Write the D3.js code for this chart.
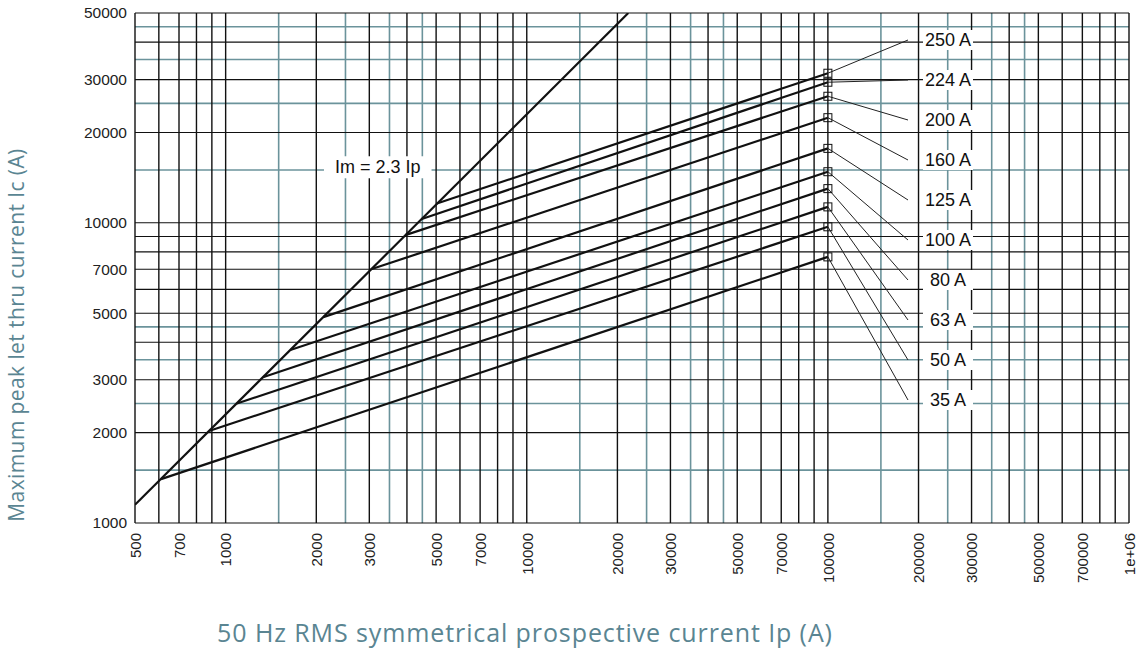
<!DOCTYPE html>
<html>
<head>
<meta charset="utf-8">
<script src="https://cdn.jsdelivr.net/npm/d3@7"></script>
<style>
  body { margin: 0; background: #fff; }
  svg { display: block; }
</style>
</head>
<body>
<svg id="chart" width="1139" height="652"></svg>
<script>
// grid lines
let xBlack = [500, 600, 700, 800, 900, 1000, 2000, 3000, 4000, 5000, 6000, 7000, 8000, 9000,
    10000, 20000, 30000, 40000, 50000, 60000, 70000, 80000, 90000,
    100000, 200000, 300000, 400000, 500000, 600000, 700000, 800000, 900000, 1000000];
let xTeal = [1500, 2500, 3500, 4500, 15000, 25000, 35000, 45000, 150000, 250000, 350000, 450000];
let yBlack = [1000, 2000, 3000, 4000, 5000, 6000, 7000, 8000, 9000, 10000, 20000, 30000, 40000, 50000];
let yTeal = [1500, 2500, 3500, 4500, 15000, 25000, 35000, 45000];

// tick labels
let xTickVals = [500, 700, 1000, 2000, 3000, 5000, 7000, 10000, 20000, 30000, 50000, 70000,
    100000, 200000, 300000, 500000, 700000, 1000000];
let xTickLabels = ["500", "700", "1000", "2000", "3000", "5000", "7000", "10000", "20000", "30000",
    "50000", "70000", "100000", "200000", "300000", "500000", "700000", "1e+06"];
let yTickVals = [1000, 2000, 3000, 5000, 7000, 10000, 20000, 30000, 50000];

// Im = 2.3 Ip line
let imIp = [500, 21740];
let imIc = [1150, 50000];

// rating curves: knee on the Im line -> end at 100 kA
let ratings = ["250 A", "224 A", "200 A", "160 A", "125 A", "100 A", "80 A", "63 A", "50 A", "35 A"];
let kneeIp = [5030, 4480, 3950, 3040, 2110, 1640, 1330, 1090, 885, 610];
let kneeIc = [11600, 10300, 9100, 7000, 4850, 3770, 3060, 2500, 2030, 1400];
let endIp = [100000, 100000, 100000, 100000, 100000, 100000, 100000, 100000, 100000, 100000];
let endIc = [31500, 29400, 26400, 22400, 17700, 14800, 13000, 11300, 9700, 7700];

let plotLeft = 135, plotRight = 1129, plotTop = 13, plotBottom = 523;
let teal = "#6b939b", ink = "#111";
let titleColor = "#5a8592";

var svg = d3.select("#chart");

var x = d3.scaleLog().domain([500, 1000000]).range([plotLeft, plotRight]);
var y = d3.scaleLog().domain([1000, 50000]).range([plotBottom, plotTop]);

//grid: teal first, black on top
var grid = svg.append("g");
grid.selectAll(".vt").data(xTeal).enter().append("line")
    .attr("x1", d => x(d)).attr("x2", d => x(d))
    .attr("y1", plotTop).attr("y2", plotBottom)
    .attr("stroke", teal).attr("stroke-width", 1.6);
grid.selectAll(".ht").data(yTeal).enter().append("line")
    .attr("x1", plotLeft).attr("x2", plotRight)
    .attr("y1", d => y(d)).attr("y2", d => y(d))
    .attr("stroke", teal).attr("stroke-width", 1.6);
grid.selectAll(".vb").data(xBlack).enter().append("line")
    .attr("x1", d => x(d)).attr("x2", d => x(d))
    .attr("y1", plotTop).attr("y2", plotBottom)
    .attr("stroke", ink).attr("stroke-width", 1.4);
grid.selectAll(".hb").data(yBlack).enter().append("line")
    .attr("x1", plotLeft).attr("x2", plotRight)
    .attr("y1", d => y(d)).attr("y2", d => y(d))
    .attr("stroke", ink).attr("stroke-width", 1.1);

//Y axis labels
var yAxis = d3.axisLeft(y).tickValues(yTickVals).tickFormat(d3.format("d"))
    .tickSize(0).tickPadding(8);
var yAxisGroup = svg.append("g")
    .attr("transform", `translate(${plotLeft}, 0)`)
    .call(yAxis);
yAxisGroup.select(".domain").remove();
yAxisGroup.selectAll("text")
    .attr("font-family", "Liberation Sans, Arial, sans-serif")
    .attr("font-size", "15.5px")
    .attr("fill", "#222");

//X axis labels
var xAxis = d3.axisBottom(x).tickValues(xTickVals)
    .tickFormat((d, i) => xTickLabels[i])
    .tickSize(0);
var xAxisGroup = svg.append("g")
    .attr("transform", `translate(0, ${plotBottom})`)
    .call(xAxis);
xAxisGroup.select(".domain").remove();
xAxisGroup.selectAll("text")
    .attr("font-family", "Liberation Sans, Arial, sans-serif")
    .attr("font-size", "15px")
    .attr("fill", "#222")
    .attr("text-anchor", "end")
    .attr("transform", "rotate(-90)")
    .attr("x", -10)
    .attr("y", 0)
    .attr("dy", "0.35em");

//clip
svg.append("clipPath").attr("id", "plotclip")
    .append("rect").attr("x", plotLeft).attr("y", plotTop)
    .attr("width", plotRight - plotLeft).attr("height", plotBottom - plotTop);

var plot = svg.append("g").attr("clip-path", "url(#plotclip)");

//Im label with white box
var imLabel = svg.append("g");
var imText = imLabel.append("text")
    .attr("x", x(3200))
    .attr("y", y(15000) - 3)
    .attr("dy", "0.35em")
    .attr("text-anchor", "middle")
    .attr("font-family", "Liberation Sans, Arial, sans-serif")
    .attr("font-size", "18px")
    .attr("fill", "#111")
    .text("Im = 2.3 Ip");
var bb = imText.node().getBBox();
imLabel.insert("rect", "text")
    .attr("x", bb.x - 11).attr("y", bb.y - 1)
    .attr("width", bb.width + 22).attr("height", bb.height + 2)
    .attr("fill", "#fff");

//Im line
var line = d3.line().x(d => x(d[0])).y(d => y(d[1]));
plot.append("path")
    .datum(imIp.map((d, i) => [d, imIc[i]]))
    .attr("d", line)
    .attr("fill", "none")
    .attr("stroke", ink)
    .attr("stroke-width", 2.2);

//rating curves
var curves = ratings.map((r, i) => ({
    name: r,
    pts: [[kneeIp[i], kneeIc[i]], [endIp[i], endIc[i]]],
    i: i
}));

plot.selectAll(".curve").data(curves).enter().append("path")
    .attr("d", d => line(d.pts))
    .attr("fill", "none")
    .attr("stroke", ink)
    .attr("stroke-width", 2.2);

//labels on the right
let labelX = 948, leaderX = 908, labelTop = 40, labelStep = 40;

var labels = svg.append("g");
curves.forEach(function(c) {
    var ly = labelTop + labelStep * c.i;
    labels.append("line")
        .attr("x1", x(endIp[c.i])).attr("y1", y(endIc[c.i]))
        .attr("x2", leaderX).attr("y2", ly)
        .attr("stroke", "#222").attr("stroke-width", 1);
    labels.append("rect")
        .attr("x", labelX - 25).attr("y", ly - 10)
        .attr("width", 50).attr("height", 20)
        .attr("fill", "#fff");
    labels.append("text")
        .attr("x", labelX).attr("y", ly)
        .attr("dy", "0.35em")
        .attr("text-anchor", "middle")
        .attr("font-family", "Liberation Sans, Arial, sans-serif")
        .attr("font-size", "18px")
        .attr("fill", "#111")
        .text(c.name);
});

//square markers
svg.selectAll(".marker").data(curves).enter().append("rect")
    .attr("x", d => x(endIp[d.i]) - 4)
    .attr("y", d => y(endIc[d.i]) - 4)
    .attr("width", 8).attr("height", 8)
    .attr("fill", "none")
    .attr("stroke", "#111")
    .attr("stroke-width", 1);

//axis titles
svg.append("text")
    .attr("x", -335)
    .attr("y", 17)
    .attr("dy", "0.35em")
    .attr("transform", "rotate(-90)")
    .attr("text-anchor", "middle")
    .attr("font-family", "Open Sans, sans-serif")
    .attr("font-size", "21px")
    .attr("letter-spacing", "0.4px")
    .attr("fill", titleColor)
    .text("Maximum peak let thru current Ic (A)");

svg.append("text")
    .attr("x", 525)
    .attr("y", 642)
    .attr("text-anchor", "middle")
    .attr("font-family", "Open Sans, sans-serif")
    .attr("font-size", "25px")
    .attr("letter-spacing", "0.9px")
    .attr("fill", titleColor)
    .text("50 Hz RMS symmetrical prospective current Ip (A)");
</script>
</body>
</html>
